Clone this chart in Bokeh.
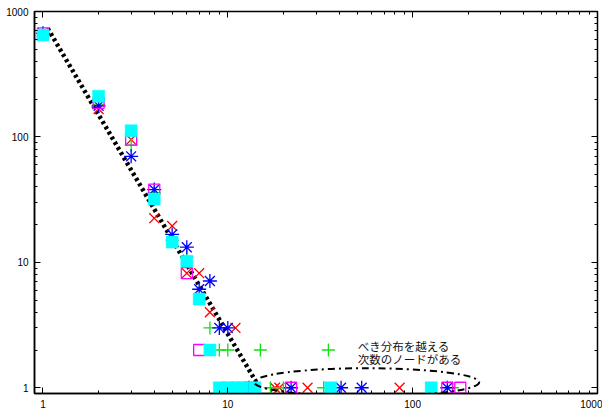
from bokeh.plotting import figure
from bokeh.models import LogAxis, FixedTicker, ColumnDataSource
from bokeh.core.properties import value
from bokeh.embed import file_html
from bokeh.resources import INLINE

# ---- data ----
red_x = [1, 2, 3, 4, 5, 6, 7, 8, 10, 11, 18, 19, 27, 85]
red_y = [670, 167, 95, 22.5, 19.5, 8.2, 8.2, 4, 1, 3, 1, 1, 1, 1]

green_x = [1, 2, 3, 4, 5, 6, 8, 9, 10, 15, 35, 17, 20, 33, 164]
green_y = [670, 180, 86, 36, 15, 11, 3, 2, 2, 2, 2, 1, 1, 1, 1]

blue_x = [1, 2, 3, 4, 5, 6, 7, 8, 9, 10, 13, 22, 41, 53, 154]
blue_y = [670, 177, 70, 38, 16.7, 13.2, 6.1, 7.1, 3, 3, 1, 1, 1, 1, 1]

magenta_x = [1, 2, 3, 4, 6, 7, 13, 22, 154, 181]
magenta_y = [670, 187, 95, 38, 8.2, 2, 1, 1, 1, 1]

cyan_x = [1, 2, 3, 4, 5, 6, 7, 8, 9, 10, 11, 12, 14, 36, 126]
cyan_y = [649, 211, 112, 32, 14.5, 10.2, 5.1, 2, 1, 1, 1, 1, 1, 1, 1]

# power-law guide line (end points)
fit_x = [1.06, 14.6]
fit_c = 850.0
fit_exp = -2.5
fit_y = [fit_c * xv ** fit_exp for xv in fit_x]

# annotation
note_lines = ["べき分布を越える", "次数のノードがある"]
note_x = [50.4, 50.4]
note_y = [2.14, 1.71]

# ellipse marking the outliers
ell_x = [56.4]
ell_y = [1.107]

major = [1, 10, 100, 1000]
minor = [m * d for d in (1, 10, 100) for m in range(2, 10)]
labels = {1: "1", 10: "10", 100: "100", 1000: "1000"}

p = figure(width=602, height=412, x_axis_type="log", y_axis_type="log",
           x_range=(0.9, 1000), y_range=(0.9, 1000),
           output_backend="svg", toolbar_location=None,
           min_border_left=34, min_border_right=5,
           min_border_top=11, min_border_bottom=19)
p.background_fill_color = "white"
p.border_fill_color = "white"
p.outline_line_color = "black"
p.outline_line_width = 1.5
p.xgrid.visible = False
p.ygrid.visible = False

font = "Liberation Sans"
for ax in (p.xaxis[0], p.yaxis[0]):
    ax.ticker = FixedTicker(ticks=major, minor_ticks=minor)
    ax.major_label_overrides = labels
    ax.major_tick_in = 6
    ax.major_tick_out = 0
    ax.minor_tick_in = 3
    ax.minor_tick_out = 0
    ax.axis_line_width = 1.5
    ax.axis_line_color = "black"
    ax.major_tick_line_color = "black"
    ax.minor_tick_line_color = "black"
    ax.major_label_text_font = font
    ax.major_label_text_font_size = "10px"
    ax.major_label_text_color = "black"
    ax.major_label_standoff = 6

for loc in ("right", "above"):
    ax = LogAxis(ticker=FixedTicker(ticks=major, minor_ticks=minor))
    ax.major_tick_in = 6
    ax.major_tick_out = 0
    ax.minor_tick_in = 3
    ax.minor_tick_out = 0
    ax.axis_line_color = None
    ax.major_label_text_font_size = "0px"
    ax.major_label_standoff = 0
    ax.major_label_overrides = {1: "", 10: "", 100: "", 1000: ""}
    p.add_layout(ax, loc)

# guide line
p.line(fit_x, fit_y, line_color="black", line_width=4.5, line_dash="3 3")

# series
p.scatter(red_x, red_y, marker="x", size=14, line_color="#ff0000", line_width=1.3)
p.scatter(green_x, green_y, marker="cross", size=13, line_color="#11e011", line_width=1.3)
p.scatter(blue_x, blue_y, marker="asterisk", size=14, line_color="#0000ff", line_width=1.3)
p.scatter(magenta_x, magenta_y, marker="square", size=11, line_color="#ff00ff",
          fill_color=None, line_width=1.3)
p.scatter(cyan_x, cyan_y, marker="square", size=12, line_color="#00ffff",
          fill_color="#00ffff", line_width=0.5)

# ellipse
p.ellipse(ell_x, ell_y, width=225, height=28, width_units="screen", height_units="screen",
          fill_color=None, line_color="black", line_width=2, line_dash="7 4 2 4")

# annotation
src = ColumnDataSource(dict(x=note_x, y=note_y, t=note_lines))
p.text(x="x", y="y", text="t", source=src, text_font=value("Noto Sans CJK JP"),
       text_font_size="11.5px", text_baseline="middle", text_align="left",
       text_color="#111111")

open("out.html", "w").write(file_html(p, INLINE))
